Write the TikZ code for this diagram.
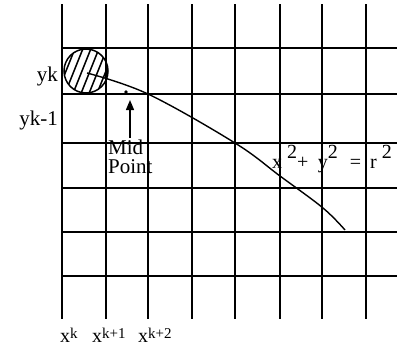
\documentclass[tikz,border=0pt]{standalone}
\usepackage{fontspec}
\setmainfont{Liberation Serif}
\usepackage{tikz}
\usetikzlibrary{arrows.meta, positioning, calc}
\tikzset{
  rejilla/.style={line width=1.6pt, black},
  etiqueta/.style={inner sep=0pt, font=\fontsize{21}{19}\selectfont},
  indice/.style={inner sep=0pt, font=\fontsize{20}{20}\selectfont},
  curva/.style={line width=1.4pt},
  flecha/.style={-{Triangle[length=10pt, width=8pt]}, line width=1.4pt}
}
\newcommand{\sube}[1]{\raisebox{3.5pt}{\fontsize{15}{16}\selectfont #1}}

\begin{document}
\begin{tikzpicture}[x=1pt, y=-1pt]
  \useasboundingbox (0,0) rectangle (397,349);

  % --- Rejilla ---
  \foreach \x in {62,106,148,192,235,280,322,366}
    \draw[rejilla] (\x,4) -- (\x,319);
  \foreach \y in {48,94,143,188,232,276}
    \draw[rejilla] (62,\y) -- (397,\y);

  % --- Pixel ---
  \coordinate (centro) at (86,71);
  \begin{scope}
    \clip (centro) circle (22pt);
    \foreach \s in {-36,-28,...,36}
      \draw[line width=1.5pt] ($(centro)+(\s-14,35)$) -- ++(28,-70);
  \end{scope}
  \draw[line width=1.5pt] (centro) circle (22pt);

  % --- Curva ---
  \draw[curva] plot[smooth, tension=0.6] coordinates
    {(87,73) (148,94) (235,143) (280,176) (323,208) (345,230)};

  % --- Punto medio ---
  \fill (126,92) circle (1.8pt);
  \coordinate (punta) at (130,100);
  \node[etiqueta, anchor=north west, align=left] (medio) at (108,140) {Mid\\Point};
  \draw[flecha] ($(punta |- medio.north)+(0,-2)$) -- (punta);

  % --- Etiquetas ---
  \node[etiqueta, anchor=base east] (yk) at (58,81) {yk};
  \node[etiqueta, anchor=base east] (ykm) at (58,125) {yk-1};
  \node[indice, anchor=base west] (xk) at (60,342) {x\sube{k}};
  \node[indice, anchor=base west] (xk1) at (92,342) {x\sube{k+1}};
  \node[indice, anchor=base west] (xk2) at (138,342) {x\sube{k+2}};

  \node[indice, anchor=base west] (ecuacion) at (272,168)
    {x\hspace{5pt}\raisebox{10pt}{2}+\hspace{9.5pt}y\raisebox{10pt}{2}\hspace{12pt}=\hspace{9pt}r\hspace{5pt}\raisebox{10pt}{2}};

\end{tikzpicture}
\end{document}
